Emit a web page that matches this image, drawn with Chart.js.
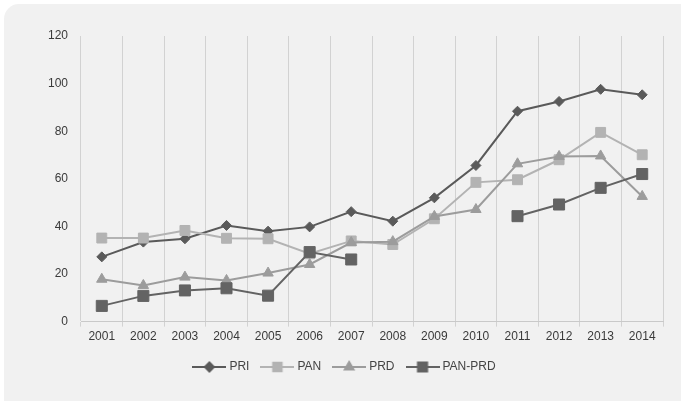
<!DOCTYPE html>
<html>
<head>
<meta charset="utf-8">
<script src="https://cdn.jsdelivr.net/npm/chart.js@4/dist/chart.umd.min.js"></script>
<style>
  html, body { margin: 0; padding: 0; background: #ffffff; }
  body { width: 681px; height: 401px; position: relative; overflow: hidden; }
  #card { position: absolute; left: 4px; top: 4px; width: 700px; height: 420px; background: #f1f1f1; border-radius: 15px; }
  #wrap { position: absolute; left: 0; top: 0; width: 681px; height: 401px; }
</style>
</head>
<body>
<div id="card"></div>
<div id="wrap"><canvas id="chart" width="681" height="401"></canvas></div>
<script>
const years = ['2001', '2002', '2003', '2004', '2005', '2006', '2007', '2008', '2009', '2010', '2011', '2012', '2013', '2014'];
const pri = [27.2, 33.4, 34.8, 40.4, 38.0, 39.8, 46.2, 42.2, 52.0, 65.6, 88.4, 92.5, 97.6, 95.3];
const pan = [35.1, 35.1, 38.3, 35.0, 34.8, 28.5, 33.9, 32.4, 43.2, 58.5, 59.6, 68.0, 79.5, 70.1];
const prd = [17.8, 15.2, 18.7, 17.3, 20.4, 24.0, 33.2, 33.6, 44.2, 47.1, 66.3, 69.4, 69.6, 52.6];
const panPrd = [6.6, 10.8, 13.1, 14.0, 10.9, 29.2, 26.1, null, null, null, 44.3, 49.2, 56.2, 62.0];
const yTicks = [0, 20, 40, 60, 80, 100, 120];

const series = [
    { label: 'PRI', data: pri, color: '#5a5a5a', style: 'rectRot', radius: 5, legendRadius: 4.5, order: 4 },
    { label: 'PAN', data: pan, color: '#b3b3b3', style: 'rect', radius: 7, legendRadius: 6, order: 3 },
    { label: 'PRD', data: prd, color: '#9c9c9c', style: 'triangle', radius: 6, legendRadius: 5, order: 2 },
    { label: 'PAN-PRD', data: panPrd, color: '#636363', style: 'rect', radius: 7.8, legendRadius: 6.5, order: 1 }
];

// little line + marker swatch for the legend
function legendSwatch(s) {
    const c = document.createElement('canvas');
    c.width = 34;
    c.height = 14;
    const g = c.getContext('2d');
    g.strokeStyle = s.color;
    g.fillStyle = s.color;
    g.lineWidth = 2;
    g.beginPath();
    g.moveTo(0, 7);
    g.lineTo(34, 7);
    g.stroke();
    Chart.helpers.drawPoint(g, { pointStyle: s.style, radius: s.legendRadius, borderWidth: 1 }, 17, 7);
    return c;
}

const swatches = series.map(legendSwatch);

new Chart(document.getElementById('chart'), {
    type: 'line',
    data: {
        labels: years,
        datasets: series.map(s => ({
            label: s.label,
            data: s.data,
            borderColor: s.color,
            backgroundColor: s.color,
            borderWidth: 2,
            pointStyle: s.style,
            pointRadius: s.radius,
            pointBorderWidth: 1,
            pointBorderColor: s.color,
            pointBackgroundColor: s.color,
            spanGaps: false,
            tension: 0,
            order: s.order
        }))
    },
    options: {
        responsive: false,
        animation: false,
        devicePixelRatio: 1,
        layout: { padding: { left: 28, right: 18, top: 36, bottom: 18 } },
        scales: {
            x: {
                offset: true,
                grid: { offset: true, color: '#d2d2d2', lineWidth: 1, tickLength: 5 },
                border: { color: '#c9c9c9' },
                ticks: { color: '#3a3a3a', padding: 3, font: { family: 'Liberation Sans, Arial, sans-serif', size: 12 } }
            },
            y: {
                min: 0,
                max: 120,
                afterFit: scale => { scale.width = 53; },
                afterBuildTicks: scale => { scale.ticks = yTicks.map(v => ({ value: v })); },
                grid: { display: false },
                border: { display: false },
                ticks: { color: '#3a3a3a', padding: 5, font: { family: 'Liberation Sans, Arial, sans-serif', size: 12 } }
            }
        },
        plugins: {
            tooltip: { enabled: false },
            legend: {
                position: 'bottom',
                labels: {
                    usePointStyle: true,
                    pointStyleWidth: 28,
                    padding: 14,
                    color: '#444444',
                    font: { family: 'Liberation Sans, Arial, sans-serif', size: 12 },
                    generateLabels: chart => chart.data.datasets.map((ds, i) => ({
                        text: ds.label,
                        datasetIndex: i,
                        pointStyle: swatches[i],
                        fillStyle: ds.borderColor,
                        strokeStyle: ds.borderColor,
                        fontColor: '#444444',
                        lineWidth: 0,
                        hidden: false
                    }))
                }
            }
        }
    }
});
</script>
</body>
</html>
